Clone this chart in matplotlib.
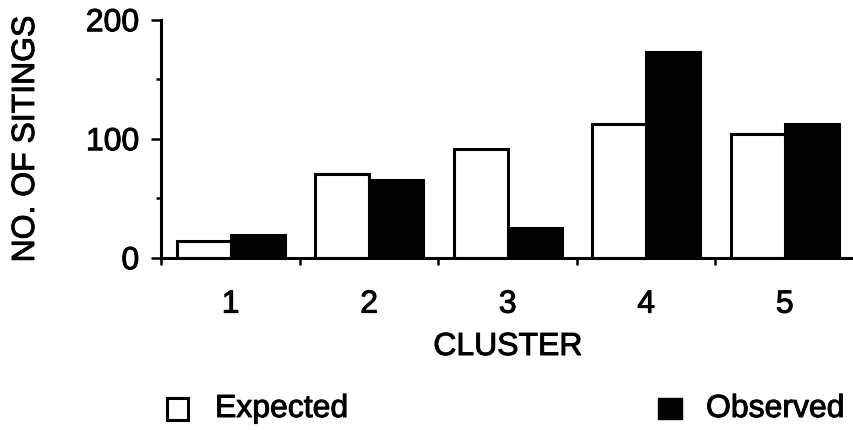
import numpy as np
import matplotlib
matplotlib.use("Agg")
from matplotlib import pyplot as plt
import matplotlib.patches as mpatches
import matplotlib.patheffects as pe
from matplotlib.ticker import FixedLocator, NullFormatter

clusters = ["1", "2", "3", "4", "5"]
expected = [14, 70, 91, 112, 104]
observed = [19, 65, 25, 173, 112]

plt.rcParams['font.family'] = ['Liberation Sans', 'DejaVu Sans']
FS = 23
# slightly heavier strokes for all text
heavy = [pe.withStroke(linewidth=0.7, foreground='black')]

fig = plt.figure(figsize=(8.54, 4.3), dpi=100)
ax = fig.add_axes([0.189, 0.4007, 0.811, 0.5535])

x = np.arange(1, len(clusters) + 1)
w = 0.39

## Bars
ax.bar(x - w / 2, expected, w, color='white', edgecolor='black', linewidth=2.2, zorder=2)
ax.bar(x + w / 2, observed, w, color='black', edgecolor='black', linewidth=2.2, zorder=2)

## Axes
ax.set_xlim(0.5, 5.5)
ax.set_ylim(0, 200)
for side in ['top', 'right']:
    ax.spines[side].set_visible(False)
for side in ['left', 'bottom']:
    ax.spines[side].set_linewidth(2.2)
    ax.spines[side].set_zorder(3)

ax.set_yticks([0, 100, 200])
ax.yaxis.set_minor_locator(FixedLocator([50, 150]))
ax.tick_params(axis='y', which='major', direction='out', length=7, width=1.8,
               pad=9, labelsize=FS)
ax.tick_params(axis='y', which='minor', direction='out', length=3.6, width=1.8)

ax.set_xticks(x)
ax.set_xticklabels(clusters)
ax.xaxis.set_minor_locator(FixedLocator([0.5, 1.5, 2.5, 3.5, 4.5]))
ax.xaxis.set_minor_formatter(NullFormatter())
ax.tick_params(axis='x', which='major', length=0, pad=23, labelsize=FS)
ax.tick_params(axis='x', which='minor', direction='out', length=5, width=1.8)

for lbl in ax.get_xticklabels() + ax.get_yticklabels():
    lbl.set_path_effects(heavy)

## Labels
fig.text(0.595, 0.1744, "CLUSTER", fontsize=FS, ha='center', va='baseline',
         path_effects=heavy)
fig.text(0.0304, 0.677, "NO. OF SITINGS", fontsize=FS, rotation=90,
         ha='center', va='center', path_effects=heavy)

## Legend
fig.add_artist(mpatches.Rectangle((167 / 854, 10 / 430), 21 / 854, 22 / 430,
                                  transform=fig.transFigure, facecolor='white',
                                  edgecolor='black', linewidth=2.2))
fig.text(215 / 854, 13 / 430, "Expected", fontsize=FS, ha='left', va='baseline',
         path_effects=heavy)
fig.add_artist(mpatches.Rectangle((658 / 854, 11 / 430), 24 / 854, 21 / 430,
                                  transform=fig.transFigure, facecolor='black',
                                  edgecolor='black', linewidth=1))
fig.text(706 / 854, 13 / 430, "Observed", fontsize=FS, ha='left', va='baseline',
         path_effects=heavy)

fig.savefig("out.png", dpi=100)
